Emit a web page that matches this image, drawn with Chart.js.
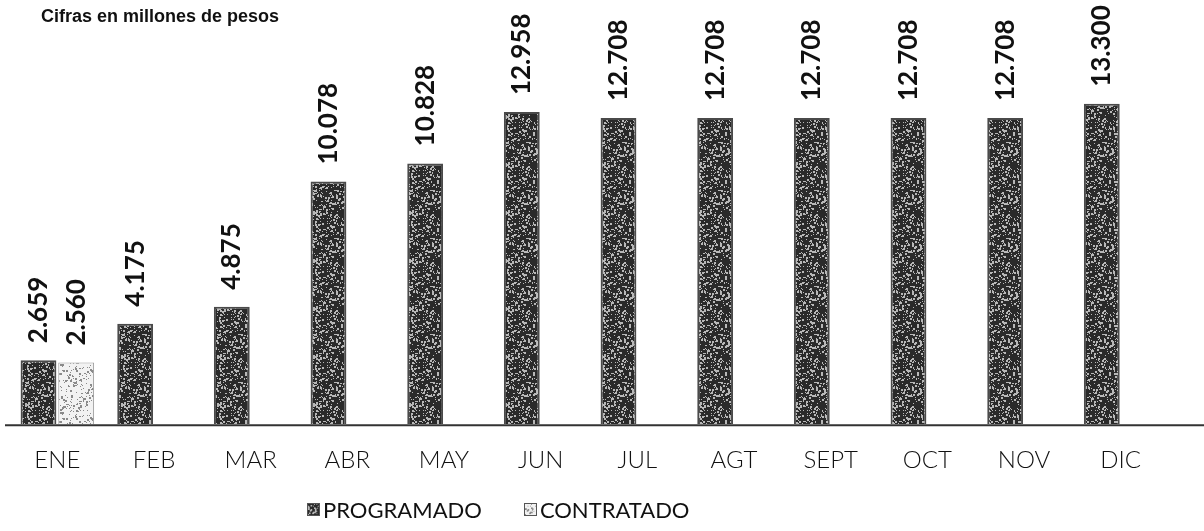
<!DOCTYPE html>
<html>
<head>
<meta charset="utf-8">
<script src="https://cdn.jsdelivr.net/npm/chart.js@4.4.1/dist/chart.umd.min.js"></script>
<style>
    body { margin: 0; background: #fff; }
    #wrap { position: relative; width: 1204px; height: 531px; }
    #title { position: absolute; left: 41px; top: 6px; font: bold 18px "Liberation Sans", Arial, sans-serif; color: #111; }
    #legend { position: absolute; left: 307px; top: 496px; font: 22px Lato, sans-serif; color: #111; display: flex; }
    #legend span.item { display: flex; align-items: center; margin-right: 42px; }
    #legend canvas { width: 13px; height: 13px; margin-right: 3px; border: 1px solid #555; box-sizing: border-box; }
</style>
</head>
<body>
<div id="wrap">
    <canvas id="chart" width="1204" height="531"></canvas>
    <div id="title">Cifras en millones de pesos</div>
    <div id="legend"></div>
</div>
<script>
// data
const months = ['ENE', 'FEB', 'MAR', 'ABR', 'MAY', 'JUN', 'JUL', 'AGT', 'SEPT', 'OCT', 'NOV', 'DIC'];
const programado = [2.659, 4.175, 4.875, 10.078, 10.828, 12.958, 12.708, 12.708, 12.708, 12.708, 12.708, 13.300];
const contratado = [2.560, null, null, null, null, null, null, null, null, null, null, null];
const seriesNames = ['PROGRAMADO', 'CONTRATADO'];

// speckled texture like the scanned original (deterministic noise)
function makePattern(base, dot, amount) {
    const c = document.createElement('canvas');
    c.width = 48; c.height = 48;
    const g = c.getContext('2d');
    g.fillStyle = base;
    g.fillRect(0, 0, 48, 48);
    let s = 12345;
    const rnd = () => { s = (s * 1103515245 + 12345) % 2147483648; return s / 2147483648; };
    g.fillStyle = dot;
    for (let i = 0; i < amount; i++) {
        const w = rnd() < 0.3 ? 2 : 1;
        g.fillRect(Math.floor(rnd() * 48), Math.floor(rnd() * 48), w, w);
    }
    return c;
}
const progTex = makePattern('#2a2a2a', '#b8b8b8', 380);
const contTex = makePattern('#f2f2f2', '#8a8a8a', 260);
const ctx = document.getElementById('chart').getContext('2d');
const progFill = ctx.createPattern(progTex, 'repeat');
const contFill = ctx.createPattern(contTex, 'repeat');

// legend
const legend = document.getElementById('legend');
[[progTex, seriesNames[0]], [contTex, seriesNames[1]]].forEach(([tex, name]) => {
    const item = document.createElement('span');
    item.className = 'item';
    const sw = document.createElement('canvas');
    sw.width = 13; sw.height = 13;
    sw.getContext('2d').drawImage(tex, 0, 0);
    item.appendChild(sw);
    item.appendChild(document.createTextNode(name));
    legend.appendChild(item);
});

// value labels rotated above bars, plus full-width base line
const extras = {
    id: 'extras',
    afterDatasetsDraw(chart) {
        const c = chart.ctx;
        c.save();
        const y0 = chart.scales.y.getPixelForValue(0);
        c.strokeStyle = '#333';
        c.lineWidth = 2;
        c.beginPath();
        c.moveTo(5, y0 + 1);
        c.lineTo(1204, y0 + 1);
        c.stroke();
        c.fillStyle = '#111';
        c.font = 'bold 26px Lato, sans-serif';
        c.textAlign = 'left';
        c.textBaseline = 'middle';
        chart.data.datasets.forEach((ds, di) => {
            chart.getDatasetMeta(di).data.forEach((bar, i) => {
                const v = ds.data[i];
                if (v == null) return;
                c.save();
                c.translate(bar.x, bar.y - 17);
                c.rotate(-Math.PI / 2);
                c.fillText(v.toFixed(3), 0, 0);
                c.restore();
            });
        });
        c.restore();
    }
};

new Chart(ctx, {
    type: 'bar',
    data: {
        labels: months,
        datasets: [{
            label: seriesNames[0],
            data: programado,
            backgroundColor: progFill,
            borderColor: '#4a4a4a',
            borderWidth: 2,
            categoryPercentage: 0.78,
            barPercentage: 0.95
        }, {
            label: seriesNames[1],
            data: contratado,
            backgroundColor: contFill,
            borderColor: '#9a9a9a',
            borderWidth: 1,
            categoryPercentage: 0.78,
            barPercentage: 0.95
        }]
    },
    options: {
        responsive: false,
        animation: false,
        layout: { padding: { left: 9, right: 35, top: 87, bottom: 34 } },
        scales: {
            x: {
                grid: { display: false, drawTicks: false },
                border: { display: false },
                ticks: { color: '#111', padding: 22, font: { family: 'Lato', size: 24, weight: '300' } }
            },
            y: {
                display: false,
                min: 0,
                max: 14
            }
        },
        plugins: {
            legend: { display: false },
            tooltip: { enabled: false }
        }
    },
    plugins: [extras]
});
</script>
</body>
</html>
